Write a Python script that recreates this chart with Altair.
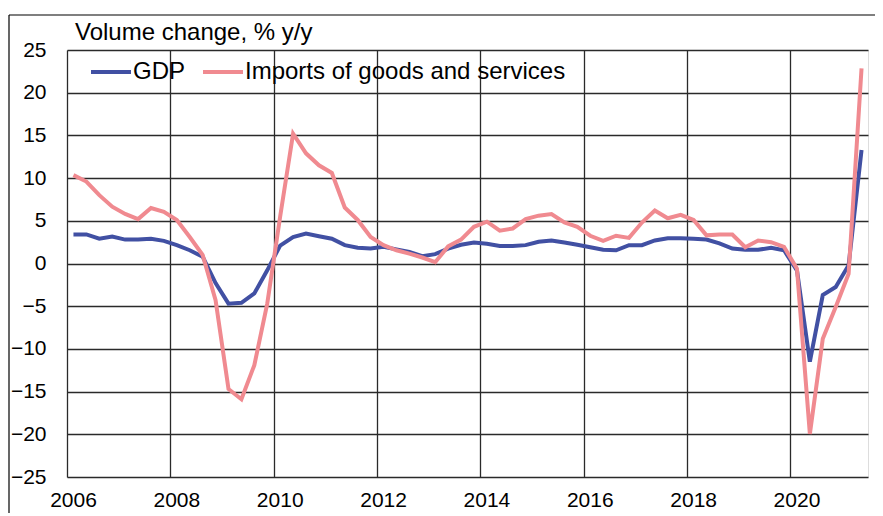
import altair as alt
import pandas as pd

years = [2006, 2007, 2008, 2009, 2010, 2011, 2012, 2013, 2014, 2015, 2016, 2017, 2018, 2019, 2020, 2021]
gdp = [3.4, 3.4, 2.9, 3.15,
       2.8, 2.8, 2.9, 2.65,
       2.15, 1.55, 0.8, -2.3,
       -4.7, -4.6, -3.5, -0.8,
       2.1, 3.1, 3.5, 3.2,
       2.9, 2.15, 1.85, 1.75,
       1.95, 1.65, 1.35, 0.85,
       1.1, 1.75, 2.2, 2.45,
       2.3, 2.05, 2.05, 2.15,
       2.55, 2.7, 2.45, 2.2,
       1.9, 1.6, 1.55, 2.15,
       2.15, 2.7, 2.95, 2.95,
       2.9, 2.8, 2.35, 1.75,
       1.6, 1.6, 1.85, 1.55,
       -0.8, -11.5, -3.7, -2.75,
       -0.2, 13.3]
imports = [10.35, 9.6, 8.0, 6.65,
           5.8, 5.2, 6.5, 6.05,
           5.1, 3.1, 1.0, -4.3,
           -14.7, -15.9, -11.9, -4.7,
           5.5, 15.2, 12.9, 11.5,
           10.6, 6.55, 5.1, 3.1,
           2.15, 1.55, 1.15, 0.7,
           0.15, 2.0, 2.8, 4.3,
           4.9, 3.85, 4.1, 5.2,
           5.6, 5.8, 4.8, 4.3,
           3.25, 2.65, 3.25, 3.0,
           4.8, 6.2, 5.3, 5.7,
           5.1, 3.3, 3.4, 3.4,
           1.9, 2.7, 2.5, 1.95,
           -0.6, -19.95, -8.8, -5.1,
           -1.2, 22.85]
series_names = ["GDP", "Imports of goods and services"]
series_colors = ["#4150A3", "#F08A90"]
x_ticks = [2006, 2008, 2010, 2012, 2014, 2016, 2018, 2020]
y_ticks = [-25, -20, -15, -10, -5, 0, 5, 10, 15, 20, 25]
title_text = "Volume change, % y/y"

rows = []
for i, (g, m) in enumerate(zip(gdp, imports)):
    t = years[0] + i * 0.25 + 0.125
    rows.append({"t": t, "v": g, "s": series_names[0], "o": i})
    rows.append({"t": t, "v": m, "s": series_names[1], "o": i})
df = pd.DataFrame(rows)

FONT = "Liberation Sans"
GRID = "#2a2a2a"

lines = alt.Chart(df).mark_line(strokeWidth=4, clip=True).encode(
    x=alt.X("t:Q", scale=alt.Scale(domain=[2006, 2021.5], nice=False, zero=False),
            axis=alt.Axis(values=x_ticks, format="d", title=None, labelFontSize=21,
                          labelFont=FONT, labelColor="#000", labelPadding=12, labelOffset=6,
                          labelFlush=False,
                          grid=True, gridColor=GRID, gridWidth=1.3, ticks=False, domain=False)),
    y=alt.Y("v:Q", scale=alt.Scale(domain=[-25, 25], nice=False),
            axis=alt.Axis(values=y_ticks, title=None, labelFontSize=21, labelFont=FONT,
                          labelColor="#000", labelPadding=21, grid=True, gridColor=GRID,
                          gridWidth=1.3, ticks=False, domain=False)),
    color=alt.Color("s:N", scale=alt.Scale(domain=series_names, range=series_colors),
                    legend=alt.Legend(orient="none", legendX=22, legendY=0, direction="horizontal",
                                      title=None, symbolType="stroke", symbolSize=1600,
                                      symbolStrokeWidth=4, labelFontSize=24, labelFont=FONT,
                                      labelColor="#000", labelOffset=0, columnPadding=9,
                                      padding=0, labelLimit=500)),
    order="o:Q",
    detail="s:N",
)

title = alt.Chart(alt.Data(values=[{"txt": title_text}])).mark_text(
    align="left", baseline="alphabetic", fontSize=24, font=FONT, color="#000"
).encode(text="txt:N", x=alt.value(8), y=alt.value(-10))

frame_top = alt.Chart(alt.Data(values=[{"a": 1}])).mark_rule(color="#000", strokeWidth=1.2).encode(
    x=alt.value(-58), x2=alt.value(900), y=alt.value(-35))
frame_left = alt.Chart(alt.Data(values=[{"a": 1}])).mark_rule(color="#000", strokeWidth=1.2).encode(
    x=alt.value(-58), y=alt.value(-35), y2=alt.value(600))

chart = alt.layer(lines, title, frame_top, frame_left).properties(
    width=801, height=427,
    padding={"left": 59, "top": 42, "right": 7, "bottom": 36},
    autosize=alt.AutoSizeParams(type="none"),
).configure_view(stroke="#000", strokeWidth=1.6).configure(background="white")

chart.save("out.html", embed_options={"renderer": "svg", "actions": False})
